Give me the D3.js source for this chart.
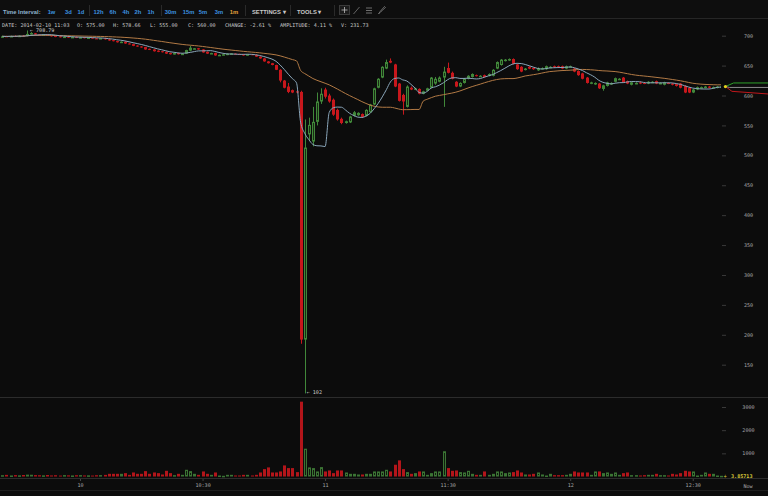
<!DOCTYPE html>
<html><head><meta charset="utf-8">
<script src="https://cdn.jsdelivr.net/npm/d3@7"></script>
<style>html,body{margin:0;padding:0;background:#0c0c0c;overflow:hidden}</style>
</head><body><svg id="c" width="768" height="496"></svg>
<script>
// ---------- DATA ----------
const startTime = new Date(2014, 1, 10, 9, 41);
const endTime = new Date(2014, 1, 10, 12, 39);
const opens = [698,699,698.5,699.5,699,700,699.5,703,704,702,701,702,701,700,699,697.5,698.5,697,698,696.5,697.5,696,697,695.5,695,696,694,692.5,691,689,690,687,686,683.5,682,681,678,677,675,674,673,671,669,671,669,670,675,678,679,677,673,670,671,667,668,668,669,670,669.5,669,667,669,668,665,662,657,654,651,643,625,615,609,607,606,192,535,523,556,590,610,600,593,576,561,554,555,566,567,569,566,572,585,613,630,645,658,652,620,601,581,613,610,611,603,608,613,620,623,630,646,638,623,615,621,628,631,634,632,634,633,633,645,651,658,659,661,652,648,643,648,646,642,645,644,647,649,649,649,645,648,645,641,637,630,620,619,620,611,616,619,623,627,630,624,618,620,622,621,620,622,624,620,618,621,620,619,620,616,613,605,610,613,613,615,613,613,614,615];
const highs = [700,700,700,700.5,700.5,701,708.79,706,704.5,702.5,702.5,702.5,701.5,700.5,699.5,699,699,698.5,698.5,698,698,697.5,697.5,696,696.5,696.5,694.5,693,691.5,690.5,690.5,687.5,686.5,684,682.5,681.5,678.5,677.5,675.5,674.5,673.5,671.5,671.5,671.5,670.5,676.5,683,679.5,679.5,677.5,673.5,671.5,671.5,668.5,669.5,670.5,671,670.5,670,669.5,669.5,669.5,668.5,665.5,662.5,657.5,654.5,651.5,644,626,621,610,608,608,560,563,581,605,612,613,603,595,578,563,558,566,574,572,570,577,586,613,629,649,660,662,653,621,603,617,615,613,612,608,613,631,631,632,648,655,640,624,622,629,634,637,635,634,635,637,644,657,661,661,662,662,653,649,646,649,647,647,647,650,649,650,650,650,650,650,646,642,638,631,623,622,621,618,623,622,630,629,631,625,623,622,623,622,624,624,625,622,623,622,621,620,621,617,614,611,615,615,616,616,615,616,616,615.5];
const lows = [697,698,698,698.5,698.5,699,699,702,701.5,700.5,700.5,699.5,698.5,697.5,697,697,696.5,696.5,696,696,695.5,695.5,695,694.5,694.5,693.5,691.5,690.5,688.5,688.5,686.5,685.5,682.5,681.5,680,676.5,676,673.5,672.5,672,669.5,668.5,668.5,668.5,668.5,669.5,674,677.5,676.5,671.5,669.5,669.5,666.5,666.5,667.5,667.5,668.5,668.5,668,666.5,666.5,667.5,664.5,661.5,656.5,653.5,650.5,642.5,622,612,604,604,604,185,102,525,515,550,586,595,588,566,558,552,553,554,565,566,563,565,571,584,612,629,644,654,614,590,568,580,609,609,602,602,607,612,618,622,581,637,627,614,614,620,627,630,632,631,630,632,632,644,650,657,658,652,643,639,642,644,643,641,644,643,646,646,646,644,644,647,639,633,627,620,619,618,611,608,615,618,622,626,621,619,617,619,619,619,619,621,619,619,617,619,617,615,612,604,604,604,609,612,612,612,612,612,613,614.5];
const closes = [699,698.5,699.5,699,700,699.5,703,704.5,702,701,702,700,699,698,697.5,698.5,697,698,696.5,697.5,696,697,695.5,695,696,694,692,691,689,690,687,686,683,682,680.5,677,676.5,674,673,672.5,670,669,671,669,670,676,680,679,677,672,670,671,667,668,669,670,670.5,669,668.5,667,669,668,665,662,657,654,651,643,625,613,606,605,605,192,513,551,556,590,603,598,590,568,560,554,557,565,572,571,564,576,585,612,628,648,656,655,615,591,590,615,610,612,603,607,612,630,628,630,640,638,628,615,621,628,633,636,633,633,631,636,643,656,660,660,661,653,644,640,645,645,644,646,646,649,648,647,647,645,649,649,640,634,628,621,622,621,612,617,622,621,629,628,622,620,622,621,620,620,623,623,620,621,622,620,618,616,613,605,605,610,614,614,615,613,614,615,615,615];
const volumes = [55,70,45,60,50,65,80,75,60,55,50,65,45,55,40,60,50,45,55,60,45,50,40,55,60,70,116,116,116,116,145,72,174,116,116,232,116,174,145,87,246,145,58,116,72,290,232,116,72,218,116,72,174,44,30,72,72,44,44,72,72,44,72,174,319,392,174,174,218,479,363,363,189,3230,1200,392,363,218,406,218,261,145,261,261,174,116,116,87,87,116,116,218,218,218,290,218,508,696,319,189,116,145,218,218,72,145,218,218,1090,363,246,261,189,174,246,116,72,72,218,72,116,218,218,145,174,189,261,174,87,87,116,174,87,44,116,58,58,58,72,116,218,174,174,174,72,218,218,145,174,116,174,72,145,174,58,58,44,58,72,72,116,58,58,44,116,87,145,246,218,218,44,72,174,116,116,44,30,3.86];
const maShort = 7, maLong = 30;
const priceTicks = [150,200,250,300,350,400,450,500,550,600,650,700];
const volumeTicks = [1000,2000,3000];
const timeTickTimes = ["10:00","10:30","11:00","11:30","12:00","12:30"];
const timeTickLabels = ["10","10:30","11","11:30","12","12:30"];
const highLabel = "708.79", lowLabel = "102";
const lastVolumeLabel = "3.85713";
const greenProj = [[177,615],[179,621],[190,621]];
const grayProj = [[177,615],[178,613.5],[190,613.5]];
const redProj = [[177,615],[178.6,607],[190,601.3]];
const intervals = ["1w","3d","1d","12h","6h","4h","2h","1h","30m","15m","5m","3m","1m"];
const infoLine = [["DATE:","2014-02-10 11:03"],["O:","575.00"],["H:","578.66"],["L:","555.00"],["C:","560.00"],["CHANGE:","-2.61 %"],["AMPLITUDE:","4.11 %"],["V:","231.73"]];

// ---------- SETUP ----------
const times = d3.timeMinute.range(startTime, endTime);
const data = times.map((t, i) => ({t, i, o: opens[i], h: highs[i], l: lows[i], c: closes[i], v: volumes[i]}));
const svg = d3.select("#c");
const W = 768, H = 496;
const BG = "#0c0c0c", UP = "#41883a", DOWN = "#c8171c", UPV = "#3b7434", DOWNV = "#b3151a";
const mono = "'DejaVu Sans Mono', monospace";
const sans = "'Liberation Sans', Arial, sans-serif";

svg.append("rect").attr("width", W).attr("height", H).attr("fill", BG);

const t0 = d3.timeParse("%H:%M");
const mk = s => { const d = t0(s); return new Date(2014,1,10,d.getHours(),d.getMinutes()); };
const x = d3.scaleTime().domain([mk("10:00"), mk("12:30")]).range([80, 692.75]);
const yP = d3.scaleLinear().domain([150, 700]).range([364.7, 35.7]);
const yV = d3.scaleLinear().domain([0, 3000]).range([476.5, 407]);
const minToDate = k => new Date(startTime.getTime() + k * 60000);

// ---------- TOOLBAR ----------
const tb = svg.append("g");
tb.append("rect").attr("width", W).attr("height", 18).attr("fill", "#0e0e0e");
tb.append("line").attr("x1",0).attr("x2",W).attr("y1",18.5).attr("y2",18.5).attr("stroke","#262626");
tb.append("text").attr("x",3).attr("y",13.5).text("Time Interval:")
  .attr("font-family",sans).attr("font-size",5.8).attr("font-weight","bold").attr("fill","#8fb3cf");
const ivX = [51.5,68.5,81,98.5,113,126,138,151,170.5,188.5,203,219,234];
intervals.forEach((s,i)=>{
  tb.append("text").attr("x",ivX[i]).attr("y",13.5).attr("text-anchor","middle").text(s)
    .attr("font-family",sans).attr("font-size",5.8).attr("font-weight","bold")
    .attr("fill", s==="1m" ? "#e8a33c" : "#3d92e0");
});
[89.5,161.5,245.5,290.5,334.5].forEach(sx=>{
  tb.append("line").attr("x1",sx).attr("x2",sx).attr("y1",5).attr("y2",16).attr("stroke","#2a2a2a");
});
tb.append("text").attr("x",252).attr("y",13.5).text("SETTINGS \u25BE")
  .attr("font-family",sans).attr("font-size",5.8).attr("font-weight","bold").attr("fill","#c8c8c8");
tb.append("text").attr("x",297).attr("y",13.5).text("TOOLS \u25BE")
  .attr("font-family",sans).attr("font-size",5.8).attr("font-weight","bold").attr("fill","#c8c8c8");
tb.append("rect").attr("x",339.5).attr("y",5.5).attr("width",10).attr("height",9).attr("fill","#1c1c1c").attr("stroke","#3a3a3a");
tb.append("path").attr("d","M344.5 7v6M341.5 10h6").attr("stroke","#bbb").attr("stroke-width",0.8);
tb.append("path").attr("d","M353.5 14l6-7").attr("stroke","#777").attr("stroke-width",0.8);
tb.append("path").attr("d","M366 8h6M366 10.5h6M366 13h6").attr("stroke","#888").attr("stroke-width",0.8);
tb.append("path").attr("d","M378.5 14l2-3 4-4.5 1 1-4.5 4z").attr("fill","none").attr("stroke","#888").attr("stroke-width",0.7);

// ---------- INFO LINE ----------
const infoX = [2, 77, 113, 150, 188, 225, 280, 341];
infoLine.forEach((p,i)=>{
  svg.append("text").attr("x",infoX[i]).attr("y",26.5).text(p[0]+" "+p[1])
    .attr("font-family",mono).attr("font-size",5.1).attr("fill","#c9c9c9");
});

// ---------- PRICE PANEL ----------
svg.append("clipPath").attr("id","pc").append("rect").attr("x",0).attr("y",28).attr("width",721).attr("height",369);
const pg = svg.append("g").attr("clip-path","url(#pc)");
const bw = 3;
const candles = data.slice(0, data.length - 1);
pg.selectAll("line.wick").data(candles).join("line").attr("class","wick")
  .attr("x1",d=>Math.round(x(d.t))+0.5).attr("x2",d=>Math.round(x(d.t))+0.5)
  .attr("y1",d=>yP(d.h)).attr("y2",d=>yP(d.l))
  .attr("stroke",d=>d.c>=d.o?UP:DOWN).attr("stroke-width",1);
pg.selectAll("rect.body").data(candles).join("rect").attr("class","body")
  .attr("x",d=>d.c>=d.o ? Math.round(x(d.t))-0.5 : Math.round(x(d.t))-1)
  .attr("width",d=>d.c>=d.o ? bw-1 : bw)
  .attr("y",d=>d.c>=d.o ? yP(Math.max(d.o,d.c))+0.5 : yP(Math.max(d.o,d.c)))
  .attr("height",d=>{const hh=Math.abs(yP(d.o)-yP(d.c)); return d.c>=d.o ? Math.max(hh-1,0.5) : Math.max(hh,1);})
  .attr("fill",d=>d.c>=d.o?"#1a2c14":DOWN)
  .attr("stroke",d=>d.c>=d.o?UP:"none").attr("stroke-width",1);

function sma(arr, n){ return arr.map((_,i)=>{ const s=arr.slice(Math.max(0,i-n+1), i+1); return d3.mean(s); }); }
const ma1 = sma(closes, maShort), ma2 = sma(closes, maLong);
const lineGen = d3.line().x(d=>x(d[0])).y(d=>yP(d[1])).curve(d3.curveMonotoneX);
pg.append("path").datum(times.map((t,i)=>[t, ma2[i]])).attr("d",lineGen)
  .attr("fill","none").attr("stroke","#b27a45").attr("stroke-width",1);
pg.append("path").datum(times.map((t,i)=>[t, ma1[i]])).attr("d",lineGen)
  .attr("fill","none").attr("stroke","#8aa6ba").attr("stroke-width",1);

const projLine = d3.line().x(d=>x(minToDate(d[0]))).y(d=>yP(d[1]));
[[grayProj,"#8c8c8c"],[greenProj,"#2fa02a"],[redProj,"#c0181c"]].forEach(([arr,col])=>{
  svg.append("path").datum(arr).attr("d",projLine).attr("fill","none").attr("stroke",col).attr("stroke-width",1);
});
const last = data[data.length-1];
svg.append("circle").attr("cx",x(last.t)).attr("cy",yP(last.c)).attr("r",1.6).attr("fill","#e6d21e");

const hiIdx = d3.maxIndex(highs), loIdx = d3.minIndex(lows);
svg.append("text").attr("x",x(data[hiIdx].t)+3).attr("y",yP(highs[hiIdx])+2)
  .text("\u2190 "+highLabel).attr("font-family",mono).attr("font-size",5.1).attr("fill","#cfcfcf");
svg.append("text").attr("x",x(data[loIdx].t)+2).attr("y",yP(lows[loIdx])+0.5)
  .text("\u2190 "+lowLabel).attr("font-family",mono).attr("font-size",5.1).attr("fill","#cfcfcf");

const pa = svg.append("g").attr("transform","translate(722,0)")
  .call(d3.axisRight(yP).tickValues(priceTicks).tickSize(4).tickPadding(0).tickFormat(d3.format("d")));
pa.select(".domain").remove();
pa.selectAll(".tick line").attr("stroke","#3a3a3a");
pa.selectAll(".tick text").attr("x",26.5).attr("text-anchor","middle")
  .attr("font-family",mono).attr("font-size",5.1).attr("fill","#a8a8a8");

svg.append("line").attr("x1",0).attr("x2",W).attr("y1",397.5).attr("y2",397.5).attr("stroke","#2c2c2c");
svg.append("line").attr("x1",0).attr("x2",W).attr("y1",478.5).attr("y2",478.5).attr("stroke","#2c2c2c");

// ---------- VOLUME PANEL ----------
const vg = svg.append("g");
vg.selectAll("rect.vol").data(candles).join("rect").attr("class","vol")
  .attr("x",d=>d.c>=d.o ? Math.round(x(d.t))-0.5 : Math.round(x(d.t))-1)
  .attr("width",d=>d.c>=d.o ? bw-1 : bw)
  .attr("y",d=>yV(d.v)+(d.c>=d.o?0.5:0))
  .attr("height",d=>Math.max(yV(0)-yV(d.v)-(d.c>=d.o?1:0),0.5))
  .attr("fill",d=>d.c>=d.o?"#121d0e":DOWNV)
  .attr("stroke",d=>d.c>=d.o?UPV:"none").attr("stroke-width",1);
const va = svg.append("g").attr("transform","translate(722,0)")
  .call(d3.axisRight(yV).tickValues(volumeTicks).tickSize(4).tickPadding(0).tickFormat(d3.format("d")));
va.select(".domain").remove();
va.selectAll(".tick line").attr("stroke","#3a3a3a");
va.selectAll(".tick text").attr("x",26.5).attr("text-anchor","middle")
  .attr("font-family",mono).attr("font-size",5.1).attr("fill","#a8a8a8");
svg.append("text").attr("x",x(last.t)-2).attr("y",yV(0)+1.5).text("+")
  .attr("font-family",mono).attr("font-size",5.5).attr("fill","#d9c93a");
svg.append("text").attr("x",731).attr("y",yV(0)+1.5).text(lastVolumeLabel)
  .attr("font-family",mono).attr("font-size",5.1).attr("font-weight","bold").attr("fill","#d9c93a");

// ---------- TIME AXIS ----------
const ta = svg.append("g").attr("transform","translate(0,479)")
  .call(d3.axisBottom(x).tickValues(timeTickTimes.map(mk)).tickSize(2).tickPadding(2)
  .tickFormat((d,i)=>timeTickLabels[i]));
ta.select(".domain").remove();
ta.selectAll(".tick line").attr("stroke","#444");
ta.selectAll(".tick text").attr("font-family",mono).attr("font-size",5.1).attr("fill","#a8a8a8");
svg.append("text").attr("x",748).attr("y",487.5).attr("text-anchor","middle").text("Now")
  .attr("font-family",mono).attr("font-size",5.1).attr("fill","#a8a8a8");
svg.append("line").attr("x1",0).attr("x2",W).attr("y1",490.5).attr("y2",490.5).attr("stroke","#1e1e1e");
</script></body></html>
